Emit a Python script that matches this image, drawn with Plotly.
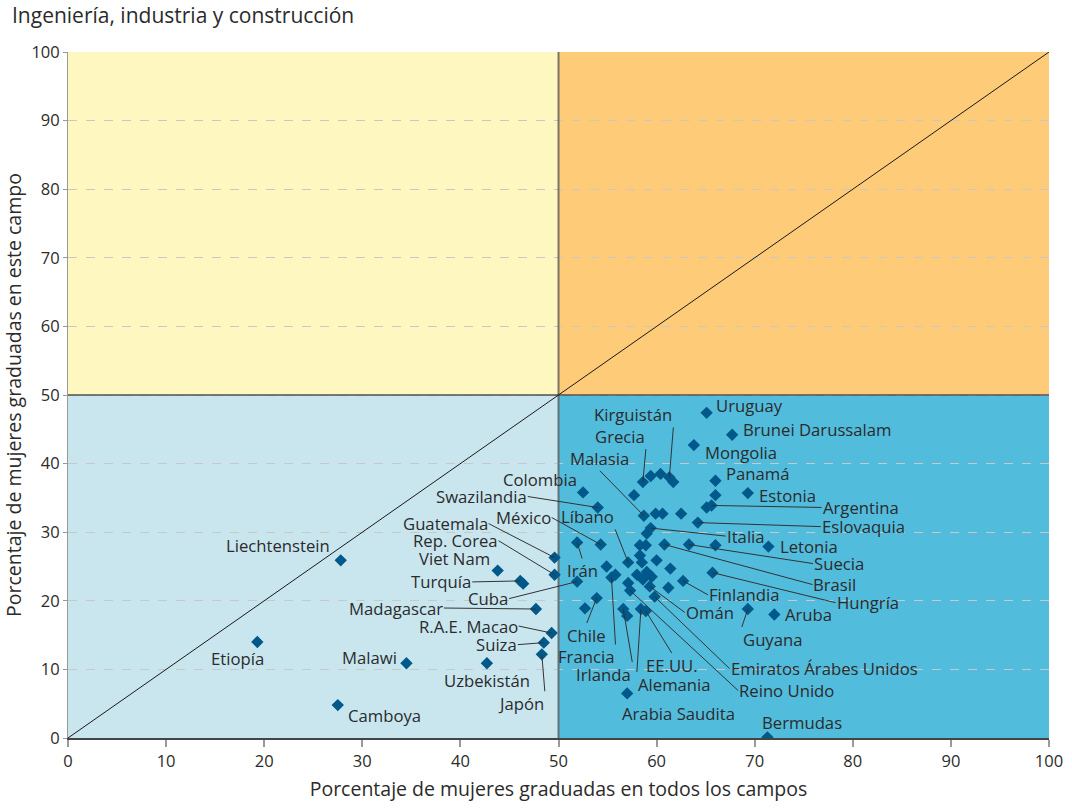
import plotly.graph_objects as go

# ---------------- data ----------------
paises = ["Uruguay", "Brunei Darussalam", "Mongolia", "Kirguistán", "Grecia", "Panamá",
          "Colombia", "Estonia", "Swazilandia", "Malasia", "Argentina", "Eslovaquia",
          "Italia", "Guatemala", "Irán", "México", "Brasil", "Suecia", "Letonia", "Líbano",
          "Rep. Corea", "Viet Nam", "Liechtenstein", "Turquía", "Cuba", "Hungría",
          "Francia", "Finlandia", "Omán", "Emiratos Árabes Unidos", "Reino Unido", "Chile",
          "Madagascar", "Irlanda", "Alemania", "EE.UU.", "Guyana", "Aruba", "R.A.E. Macao",
          "Suiza", "Etiopía", "Japón", "Uzbekistán", "Malawi", "Camboya", "Arabia Saudita",
          "Bermudas"]
pct_todos = [65.1, 67.7, 63.8, 61.3, 58.6, 66.0,
             52.5, 69.3, 54.0, 58.7, 65.6, 64.2,
             59.4, 49.6, 51.9, 54.3, 60.8, 63.3, 71.4, 57.1,
             49.6, 43.8, 27.8, 46.1, 51.9, 65.7,
             55.4, 62.7, 59.3, 59.8, 57.3, 53.9,
             47.7, 56.6, 58.4, 58.9, 69.3, 72.0, 49.3,
             48.5, 19.3, 48.3, 42.7, 34.5, 27.5, 57.0,
             71.3]
pct_campo = [47.4, 44.2, 42.7, 38.0, 37.3, 37.5,
             35.8, 35.7, 33.6, 32.4, 33.9, 31.4,
             30.6, 26.3, 28.5, 28.2, 28.2, 28.2, 27.9, 25.6,
             23.8, 24.4, 25.9, 22.9, 22.8, 24.1,
             23.4, 22.9, 22.1, 20.6, 21.5, 20.4,
             18.8, 18.8, 18.8, 18.5, 18.8, 18.0, 15.3,
             13.9, 14.0, 12.2, 10.9, 10.9, 4.8, 6.5,
             0.1]

# countries shown without a label
otros_todos = [59.4, 60.4, 61.7, 57.7, 66.0, 59.9, 60.6, 62.5, 65.1, 59.0, 58.3, 58.9,
               66.0, 58.3, 58.5, 60.0, 54.9, 55.8, 58.0, 59.0, 59.5, 58.6, 57.1, 61.4,
               61.2, 52.7, 46.4, 57.0]
otros_campo = [38.2, 38.5, 37.3, 35.4, 35.4, 32.7, 32.7, 32.7, 33.6, 29.8, 28.1, 28.1,
               28.1, 26.6, 25.6, 25.9, 25.0, 23.8, 23.8, 24.2, 23.5, 23.1, 22.6, 24.7,
               21.9, 18.9, 22.5, 17.8]

ticks = [0, 10, 20, 30, 40, 50, 60, 70, 80, 90, 100]
titulo = "Ingeniería, industria y construcción"
titulo_x = "Porcentaje de mujeres graduadas en todos los campos"
titulo_y = "Porcentaje de mujeres graduadas en este campo"

# ---------------- label placement (pixels) ----------------
# name: (mode, dx, dy, xanchor, yanchor) ; mode 'a' = leader line (ax, ay), 't' = text shift
etiquetas = {
    "Uruguay": ("t", 7, 7, "left", "middle"),
    "Brunei Darussalam": ("t", 9, 5, "left", "middle"),
    "Mongolia": ("t", 9, -7, "left", "middle"),
    "Kirguistán": ("a", 4, -50, "right", "bottom"),
    "Grecia": ("a", 3, -33, "right", "bottom"),
    "Panamá": ("t", 9, 7, "left", "middle"),
    "Colombia": ("t", -4, 13, "right", "middle"),
    "Estonia": ("t", 9, -2, "left", "middle"),
    "Swazilandia": ("a", -70, -11, "right", "middle"),
    "Malasia": ("a", -44, -45, "center", "bottom"),
    "Argentina": ("a", 110, 2, "left", "middle"),
    "Eslovaquia": ("a", 123, 4, "left", "middle"),
    "Italia": ("a", 75, 8, "left", "middle"),
    "Guatemala": ("a", -66, -34, "right", "middle"),
    "Irán": ("a", 5, 16, "center", "top"),
    "México": ("a", -49, -27, "right", "middle"),
    "Brasil": ("a", 148, 40, "left", "middle"),
    "Suecia": ("a", 124, 19, "left", "middle"),
    "Letonia": ("t", 10, 0, "left", "middle"),
    "Líbano": ("a", -13, -33, "right", "bottom"),
    "Rep. Corea": ("a", -56, -34, "right", "middle"),
    "Viet Nam": ("t", -6, 12, "right", "middle"),
    "Liechtenstein": ("t", -9, 15, "right", "middle"),
    "Turquía": ("a", -48, 1, "right", "middle"),
    "Cuba": ("a", -68, 17, "right", "middle"),
    "Hungría": ("a", 123, 30, "left", "middle"),
    "Francia": ("a", 4, 67, "right", "top"),
    "Finlandia": ("a", 25, 14, "left", "middle"),
    "Omán": ("a", 35, 26, "left", "middle"),
    "Emiratos Árabes Unidos": ("a", 75, 72, "left", "middle"),
    "Reino Unido": ("a", 108, 100, "left", "middle"),
    "Chile": ("a", -10, 25, "center", "top"),
    "Madagascar": ("a", -92, -1, "right", "middle"),
    "Irlanda": ("a", 9, 53, "right", "top"),
    "Alemania": ("a", -4, 63, "left", "top"),
    "EE.UU.": ("a", 26, 42, "center", "top"),
    "Guyana": ("a", -6, 18, "left", "top"),
    "Aruba": ("t", 9, 0, "left", "middle"),
    "R.A.E. Macao": ("a", -33, -7, "right", "middle"),
    "Suiza": ("a", -26, 2, "right", "middle"),
    "Etiopía": ("t", -20, -17, "center", "middle"),
    "Japón": ("a", 3, 37, "right", "top"),
    "Uzbekistán": ("t", 0, -17, "center", "middle"),
    "Malawi": ("t", -7, 6, "right", "middle"),
    "Camboya": ("t", 8, -10, "left", "middle"),
    "Arabia Saudita": ("t", -7, -20, "left", "middle"),
    "Bermudas": ("t", -7, 15, "left", "middle"),
}

FONT = "Open Sans"
TXT = "#2b2b2b"
MARK = "#00598a"
LBL = 16.7

fig = go.Figure()

# quadrant backgrounds
cuadrantes = [((0, 50), (50, 100), "#fff7c0"),
              ((50, 100), (50, 100), "#fecb78"),
              ((0, 50), (0, 50), "#c9e6ef"),
              ((50, 100), (0, 50), "#52bcdd")]
for (x0, x1), (y0, y1), col in cuadrantes:
    fig.add_shape(type="rect", xref="x", yref="y", x0=x0, x1=x1, y0=y0, y1=y1,
                  fillcolor=col, line_width=0, layer="below")

# reference lines as traces
fig.add_trace(go.Scatter(x=[50, 50], y=[0, 100], mode="lines",
                         line=dict(color="rgba(80,80,80,0.75)", width=2),
                         hoverinfo="skip", showlegend=False))
fig.add_trace(go.Scatter(x=[0, 100], y=[50, 50], mode="lines",
                         line=dict(color="rgba(80,80,80,0.75)", width=2),
                         hoverinfo="skip", showlegend=False))
fig.add_trace(go.Scatter(x=[0, 100], y=[0, 100], mode="lines",
                         line=dict(color="#1a1a1a", width=1),
                         hoverinfo="skip", showlegend=False))

# points
fig.add_trace(go.Scatter(x=otros_todos, y=otros_campo, mode="markers",
                         marker=dict(symbol="diamond", size=9.5, color=MARK,
                                     line=dict(width=0)),
                         showlegend=False))
fig.add_trace(go.Scatter(x=pct_todos, y=pct_campo, mode="markers", text=paises,
                         marker=dict(symbol="diamond", size=9.5, color=MARK,
                                     line=dict(width=0)),
                         showlegend=False))

for nombre, xv, yv in zip(paises, pct_todos, pct_campo):
    mode, dx, dy, xa, ya = etiquetas[nombre]
    if mode == "a":
        fig.add_annotation(x=xv, y=yv, text=nombre, showarrow=True, arrowhead=0,
                           arrowwidth=1, arrowcolor="#333333", ax=dx, ay=dy,
                           xanchor=xa, yanchor=ya, standoff=0, borderpad=0,
                           font=dict(family=FONT, size=LBL, color=TXT))
    else:
        fig.add_annotation(x=xv, y=yv, text=nombre, showarrow=False,
                           xshift=dx, yshift=dy, xanchor=xa, yanchor=ya,
                           font=dict(family=FONT, size=LBL, color=TXT))

fig.add_annotation(xref="paper", yref="paper", x=-0.0591, y=1.0545, text=titulo,
                   showarrow=False, xanchor="left", yanchor="middle",
                   font=dict(family=FONT, size=21, color=TXT))

fig.update_layout(
    width=1072, height=809,
    margin=dict(l=68, r=23, t=52, b=71, autoexpand=False),
    paper_bgcolor="white", plot_bgcolor="white",
    font=dict(family=FONT, size=15, color=TXT),
    xaxis=dict(range=[0, 100], tickvals=ticks, showgrid=False, zeroline=False,
               automargin=False,
               showline=True, linecolor="#444444", linewidth=1.5,
               ticks="outside", ticklen=7, tickcolor="#999999", tickwidth=1.5,
               tickfont=dict(size=16.5, color=TXT),
               title=dict(text=titulo_x, standoff=12,
                          font=dict(size=19.5, color=TXT))),
    yaxis=dict(range=[0, 100], tickvals=ticks, showgrid=True, gridcolor="#c8c8c8",
               griddash="dash", gridwidth=1, zeroline=False,
               automargin=False,
               showline=True, linecolor="#999999", linewidth=1,
               ticks="outside", ticklen=4, tickcolor="#999999",
               tickfont=dict(size=16.5, color=TXT),
               title=dict(text=titulo_y, standoff=8,
                          font=dict(size=19.5, color=TXT))),
)

fig.write_html("out.html",
               config={"displayModeBar": False},
               post_script="document.body.style.margin='0';"
                           "document.body.style.overflow='hidden';")
